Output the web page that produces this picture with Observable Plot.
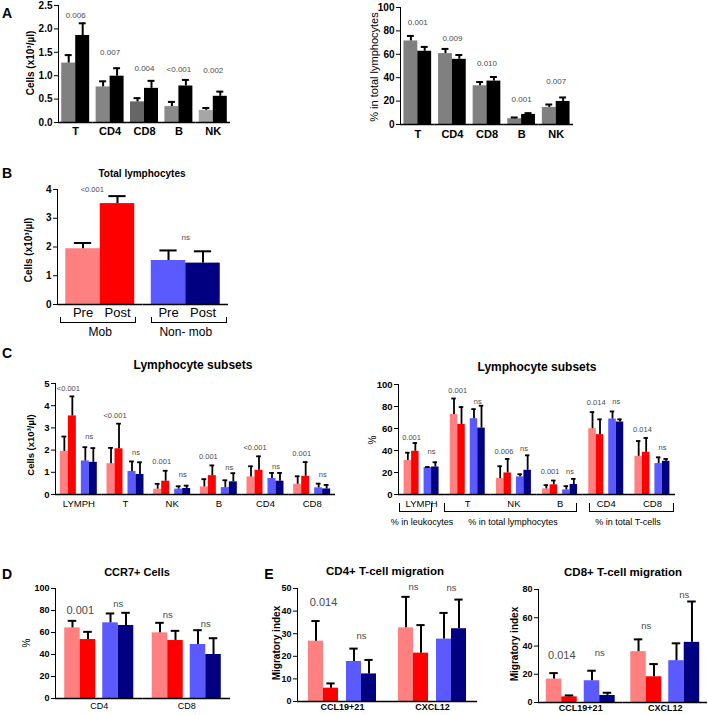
<!DOCTYPE html>
<html><head><meta charset="utf-8">
<script src="https://cdn.jsdelivr.net/npm/d3@7"></script>
<script src="https://cdn.jsdelivr.net/npm/@observablehq/plot@0.6"></script>
<style>
body{margin:0;background:#fff;font-family:"Liberation Sans",Arial,sans-serif;}
#fig{position:relative;width:708px;height:715px;overflow:hidden;background:#fff;}
.holder{position:absolute;}
.ctr{position:absolute;transform:translate(-50%,-50%);white-space:nowrap;color:#000;line-height:1;}
.rot{position:absolute;transform:translate(-50%,-50%) rotate(-90deg);white-space:nowrap;color:#000;line-height:1;}
.brk{position:absolute;border:1.5px solid #000;border-top:none;box-sizing:border-box;}
</style></head><body><div id="fig"></div><script>
// ---------------- DATA ----------------
// Panel A (two groups: grey vs black)
const aCats = ["T","CD4","CD8","B","NK"];
const aSeries = ["Group 1","Group 2"];
const aAbsGrey = [1.27,0.76,0.44,0.34,0.26];
const aAbsGreyTop = [1.44,0.88,0.52,0.44,0.31];
const aAbsBlack = [1.86,0.99,0.73,0.78,0.56];
const aAbsBlackTop = [2.12,1.16,0.89,0.91,0.66];
const aAbsP = ["0.006","0.007","0.004","<0.001","0.002"];
const aAbsPY = [2.29,1.5,1.16,1.14,1.12];
const aPctGrey = [71.4,60.6,33.1,4.9,14.6];
const aPctGreyTop = [75.7,64.6,36.3,6,17.1];
const aPctBlack = [62.6,55.7,37.1,8.6,19.7];
const aPctBlackTop = [66.3,59.4,40.6,9.7,23.1];
const aPctP = ["0.001","0.009","0.010","0.001","0.007"];
const aPctPY = [86.9,73.4,52.6,21.4,37];

// Panel B
const bGroups = ["Mob","Non- mob"];
const bTimes = ["Pre","Post"];
const bMobMean = [1.94,3.51], bMobTop = [2.14,3.77];
const bNonMean = [1.53,1.44], bNonTop = [1.88,1.85];
const bP = ["<0.001","ns"];
const bPY = [3.98,2.33];

// Panel C
const cCats = ["LYMPH","T","NK","B","CD4","CD8"];
const cAbsMobPre = [1.94,1.39,0.24,0.34,0.79,0.46];
const cAbsMobPreTop = [2.61,2.1,0.48,0.69,1.27,0.82];
const cAbsMobPost = [3.54,2.06,0.6,0.85,1.09,0.82];
const cAbsMobPostTop = [4.42,3.19,1.07,1.31,1.72,1.46];
const cAbsNonPre = [1.51,1.04,0.24,0.31,0.72,0.3];
const cAbsNonPreTop = [2.13,1.49,0.37,0.64,0.97,0.49];
const cAbsNonPost = [1.45,0.9,0.27,0.57,0.6,0.25];
const cAbsNonPostTop = [2.09,1.45,0.4,0.96,0.97,0.43];
const cAbsMobP = ["<0.001","<0.001","0.001","0.001","<0.001","0.001"];
const cAbsMobPY = [4.75,3.57,1.46,1.69,2.1,1.84];
const cAbsNonP = ["ns","ns","ns","ns","ns","ns"];
const cAbsNonPY = [2.63,1.88,0.91,1.21,1.27,0.9];

const cPctMobPre = [31,72.8,14.5,5.1,59.8,34.7];
const cPctMobPreTop = [38,87.3,25.7,8.5,74.9,48.6];
const cPctMobPost = [39.3,63.7,19.6,8.8,54.4,38.4];
const cPctMobPostTop = [46.8,79.5,32.3,12.7,68.3,51.4];
const cPctNonPre = [24.5,68.9,16,4.2,68.6,28.1];
const cPctNonPreTop = [25,77.6,18.4,7.6,75.5,33.8];
const cPctNonPost = [25,60.4,22,9.1,65.9,30.2];
const cPctNonPostTop = [29.3,80.7,35.6,14.2,68.3,32.3];
const cPctMobP = ["0.001","0.001","0.006","0.001","0.014","0.014"];
const cPctMobPY = [51.4,94.6,39.3,21.1,84,58.9];
const cPctNonP = ["ns","ns","ns","ns","ns","ns"];
const cPctNonPY = [38.7,84.9,41.4,21.1,84.9,42.3];
const cPctGroupLabels = ["% in leukocytes","% in total lymphocytes","% in total T-cells"];

// Panel D
const dCats = ["CD4","CD8"];
const dMobPre = [64.2,59.7], dMobPreTop = [70.6,68.8];
const dMobPost = [53.6,52.7], dMobPostTop = [60.6,61.5];
const dNonPre = [68.8,49.1], dNonPreTop = [77.3,62.1];
const dNonPost = [66.4,40], dNonPostTop = [77.9,54.8];
const dMobP = ["0.001","ns"], dMobPY = [79.7,76.4];
const dNonP = ["ns","ns"], dNonPY = [85.5,67.6];

// Panel E
const eCats = ["CCL19+21","CXCL12"];
const e4MobPre = [26.7,32.6], e4MobPreTop = [35.6,46.3];
const e4MobPost = [5.9,21.4], e4MobPostTop = [8,33.8];
const e4NonPre = [17.7,27.6], e4NonPreTop = [23.4,39.2];
const e4NonPost = [12.2,32.2], e4NonPostTop = [18.4,45.1];
const e4MobP = ["0.014","ns"], e4MobPY = [43.6,50.7];
const e4NonP = ["ns","ns"], e4NonPY = [28.8,50.3];
const e8MobPre = [16.6,36], e8MobPreTop = [20.8,44.7];
const e8MobPost = [4,18.2], e8MobPostTop = [5,27.2];
const e8NonPre = [15.4,29.6], e8NonPreTop = [22.5,41.9];
const e8NonPost = [5,42.6], e8NonPostTop = [6.9,71.5];
const e8MobP = ["0.014","ns"], e8MobPY = [33.6,54];
const e8NonP = ["ns","ns"], e8NonPY = [34.8,76.3];

// ---------------- STYLE ----------------
const FONT = '"Liberation Sans", Arial, Helvetica, sans-serif';
const greyOf = {T:"#808080",CD4:"#858585",CD8:"#666666",B:"#8a8a8a",NK:"#a6a6a6"};
const fourSeries = ["Mob Pre","Mob Post","Non-mob Pre","Non-mob Post"];
const fourColors = ["#ff8080","#ff0000","#5a5aff","#000080"];

function rows2(cats, series, sets, fillFn) {
  return cats.flatMap((c,i)=> sets.map(([m,t],j)=>({cat:c, s:series[j], v:m[i], hi:t[i], fill:fillFn(c,j), pair:0})));
}
function rows4(cats, sets) {
  return cats.flatMap((c,i)=> sets.map(([m,t],j)=>({cat:c, s:fourSeries[j], v:m[i], hi:t[i], fill:fourColors[j], pair: j<2?0:1})));
}
function labels4(cats, mobP, mobY, nonP, nonY) {
  return cats.flatMap((c,i)=>[{cat:c,text:mobP[i],y:mobY[i],pair:0},{cat:c,text:nonP[i],y:nonY[i],pair:1}]);
}
function labelsCenter(cats, p, py) {
  return cats.map((c,i)=>({cat:c,text:p[i],y:py[i],pair:null}));
}

const fig = document.getElementById("fig");

function panel(cfg) {
  const {left, top, width, height, mt, mr, mb, ml, fxDomain, xDomain, rows, labels,
    yDomain, yTicks, yFormat, padOuter, gap=0, capFrac=0.5, errW=2,
    fxSize, fxWeight, fxPad, xAxisOpts, pSize=8, nsSize=8, labelDx={}, yFont="10px"} = cfg;
  const n = xDomain.length;
  const facetW = (width - ml - mr) / fxDomain.length;
  const step = facetW / (n + 2*padOuter);
  const ins = step*(1-capFrac)/2;
  const offs = [-gap/2, gap/2];
  const marks = [];
  for (const k of [0,1]) {
    const rk = rows.filter(d => d.pair === k);
    if (!rk.length) continue;
    marks.push(Plot.barY(rk, {fx:"cat", x:"s", y:"v", fill:"fill", dx: offs[k]}));
    marks.push(Plot.ruleX(rk, {fx:"cat", x:"s", y1:"v", y2:"hi", stroke:"#000", strokeWidth: errW, dx: offs[k]}));
    marks.push(Plot.tickY(rk, {fx:"cat", x:"s", y:"hi", stroke:"#000", strokeWidth: errW, insetLeft: ins, insetRight: ins, dx: offs[k]}));
  }
  marks.push(Plot.ruleY([0], {stroke:"#000", strokeWidth:1.5}));
  for (const L of labels) {
    const size = L.text === "ns" ? nsSize : pSize;
    const extra = labelDx[L.cat + "|" + L.text] || 0;
    const opts = {fx:"cat", y:"y", text:"text", fontSize:size, fontWeight:"normal", fill:"#4a4a4a"};
    if (L.pair === null) { opts.dx = extra; }
    else { opts.x = () => xDomain[2*L.pair]; opts.dx = step/2 + offs[L.pair] + extra; }
    marks.push(Plot.text([L], opts));
  }
  marks.push(Plot.axisFx({anchor:"bottom", tickSize:0, tickPadding:fxPad, fontSize:fxSize, fontWeight:fxWeight, label:null}));
  if (xAxisOpts) marks.push(Plot.axisX({anchor:"bottom", tickSize:0, label:null, ...xAxisOpts}));
  const svg = Plot.plot({
    width, height, marginTop:mt, marginRight:mr, marginBottom:mb, marginLeft:ml,
    style:{fontFamily:FONT, fontSize:yFont, fontWeight:"bold", color:"#000", background:"transparent", overflow:"visible"},
    fx:{domain:fxDomain, padding:0, round:false, label:null},
    x:{domain:xDomain, paddingInner:0, paddingOuter:padOuter, round:false, axis: xAxisOpts ? undefined : null},
    y:{domain:yDomain, ticks:yTicks, tickFormat:yFormat, tickSize:4, tickPadding:2, line:true, label:null},
    marks
  });
  const holder = document.createElement("div");
  holder.className = "holder";
  holder.style.left = left + "px"; holder.style.top = top + "px";
  holder.appendChild(svg);
  fig.appendChild(holder);
}

function txt(t, x, y, size, weight, cls="ctr", color="#000") {
  const d = document.createElement("div");
  d.className = cls; d.textContent = t;
  d.style.left = x + "px"; d.style.top = y + "px";
  d.style.fontSize = size + "px"; d.style.fontWeight = weight; d.style.color = color;
  fig.appendChild(d);
}
function bracket(x1, x2, y1, y2) {
  const d = document.createElement("div");
  d.className = "brk";
  d.style.left = x1 + "px"; d.style.top = y1 + "px";
  d.style.width = (x2 - x1) + "px"; d.style.height = (y2 - y1) + "px";
  fig.appendChild(d);
}

// ---------------- PANEL A ----------------
panel({left:0, top:0, width:235, height:145, mt:5, mb:23, ml:58, mr:5,
  fxDomain:aCats, xDomain:aSeries,
  rows: rows2(aCats, aSeries, [[aAbsGrey,aAbsGreyTop],[aAbsBlack,aAbsBlackTop]], (c,j)=> j===0 ? greyOf[c] : "#000"),
  labels: labelsCenter(aCats, aAbsP, aAbsPY),
  yDomain:[0,2.5], yTicks:[0,0.5,1,1.5,2,2.5], yFormat:d3.format(".1f"), padOuter:0.23,
  fxSize:11, fxWeight:"bold", fxPad:5, pSize:8});
panel({left:340, top:0, width:240, height:145, mt:7, mb:21, ml:60, mr:7,
  fxDomain:aCats, xDomain:aSeries,
  rows: rows2(aCats, aSeries, [[aPctGrey,aPctGreyTop],[aPctBlack,aPctBlackTop]], (c,j)=> j===0 ? "#808080" : "#000"),
  labels: labelsCenter(aCats, aPctP, aPctPY),
  yDomain:[0,100], yTicks:[0,20,40,60,80,100], yFormat:d3.format("d"), padOuter:0.25,
  fxSize:11, fxWeight:"bold", fxPad:6, pSize:8});
txt("A", 7, 12.5, 14, "bold");
txt("Cells (x10³/µl)", 31, 63, 10, "bold", "rot");
txt("% in total lymphocytes", 374, 67, 11, "normal", "rot");

// ---------------- PANEL B ----------------
const bColors = [["#ff8080","#ff0000"],["#5a5aff","#000080"]];
panel({left:0, top:160, width:235, height:185, mt:29, mb:41, ml:57, mr:7,
  fxDomain:bGroups, xDomain:bTimes,
  rows: [
    ...bTimes.map((t,j)=>({cat:bGroups[0], s:t, v:bMobMean[j], hi:bMobTop[j], fill:bColors[0][j], pair:0})),
    ...bTimes.map((t,j)=>({cat:bGroups[1], s:t, v:bNonMean[j], hi:bNonTop[j], fill:bColors[1][j], pair:0}))
  ],
  labels: labelsCenter(bGroups, bP, bPY),
  labelDx: {"Mob|<0.001": -8},
  yDomain:[0,4], yTicks:[0,1,2,3,4], yFormat:d3.format("d"), padOuter:0.24,
  fxSize:12, fxWeight:"normal", fxPad:23, xAxisOpts:{fontSize:13, fontWeight:"normal", tickPadding:3},
  pSize:7.5, nsSize:8});
txt("B", 7, 172.5, 14, "bold");
txt("Total lymphocytes", 142, 174, 10, "bold");
txt("Cells (x10³/µl)", 29, 250, 10, "bold", "rot");
bracket(60, 136, 317, 322.5);
bracket(151, 227, 317, 322.5);

// ---------------- PANEL C ----------------
panel({left:0, top:375, width:338, height:139, mt:8, mb:20, ml:55, mr:3,
  fxDomain:cCats, xDomain:fourSeries,
  rows: rows4(cCats, [[cAbsMobPre,cAbsMobPreTop],[cAbsMobPost,cAbsMobPostTop],[cAbsNonPre,cAbsNonPreTop],[cAbsNonPost,cAbsNonPostTop]]),
  labels: labels4(cCats, cAbsMobP, cAbsMobPY, cAbsNonP, cAbsNonPY),
  yDomain:[0,5], yTicks:[0,1,2,3,4,5], yFormat:d3.format("d"), padOuter:0.92, gap:5, capFrac:0.6, errW:1.8,
  fxSize:9.5, fxWeight:"normal", fxPad:6, pSize:7.5, nsSize:7.5, yFont:"9.5px"});
panel({left:345, top:375, width:335, height:139, mt:9, mb:20, ml:53, mr:5,
  fxDomain:cCats, xDomain:fourSeries,
  rows: rows4(cCats, [[cPctMobPre,cPctMobPreTop],[cPctMobPost,cPctMobPostTop],[cPctNonPre,cPctNonPreTop],[cPctNonPost,cPctNonPostTop]]),
  labels: labels4(cCats, cPctMobP, cPctMobPY, cPctNonP, cPctNonPY),
  yDomain:[0,100], yTicks:[0,20,40,60,80,100], yFormat:d3.format("d"), padOuter:1.08, gap:5, capFrac:0.6, errW:1.8,
  fxSize:9.5, fxWeight:"normal", fxPad:6, pSize:7.5, nsSize:7.5, yFont:"9.5px"});
txt("C", 7, 353, 14, "bold");
txt("Lymphocyte subsets", 193, 365, 12, "bold");
txt("Lymphocyte subsets", 537, 367, 12, "bold");
txt("Cells (x10³/µl)", 31, 445, 9.5, "bold", "rot");
txt("%", 373, 440, 10, "normal", "rot");
bracket(399, 432, 503, 511.5);
bracket(444, 577, 503, 511.5);
bracket(589, 674, 503, 511.5);
txt(cPctGroupLabels[0], 422, 522, 9, "normal");
txt(cPctGroupLabels[1], 513, 522, 9, "normal");
txt(cPctGroupLabels[2], 628, 522, 9, "normal");

// ---------------- PANEL D ----------------
panel({left:0, top:580, width:232, height:135, mt:8, mb:17, ml:55, mr:2,
  fxDomain:dCats, xDomain:fourSeries,
  rows: rows4(dCats, [[dMobPre,dMobPreTop],[dMobPost,dMobPostTop],[dNonPre,dNonPreTop],[dNonPost,dNonPostTop]]),
  labels: labels4(dCats, dMobP, dMobPY, dNonP, dNonPY),
  yDomain:[0,100], yTicks:[0,20,40,60,80,100], yFormat:d3.format("d"), padOuter:0.82, gap:7, capFrac:0.55, errW:2,
  fxSize:9, fxWeight:"normal", fxPad:4, pSize:11, nsSize:9.5, yFont:"9px"});
txt("D", 7, 574, 14, "bold");
txt("CCR7+ Cells", 137, 572, 11, "bold");
txt("%", 27, 643, 10, "normal", "rot");

// ---------------- PANEL E ----------------
panel({left:245, top:580, width:235, height:135, mt:8, mb:14, ml:52, mr:3,
  fxDomain:eCats, xDomain:fourSeries,
  rows: rows4(eCats, [[e4MobPre,e4MobPreTop],[e4MobPost,e4MobPostTop],[e4NonPre,e4NonPreTop],[e4NonPost,e4NonPostTop]]),
  labels: labels4(eCats, e4MobP, e4MobPY, e4NonP, e4NonPY),
  yDomain:[0,50], yTicks:[0,10,20,30,40,50], yFormat:d3.format("d"), padOuter:1, gap:8, capFrac:0.55, errW:2,
  fxSize:9, fxWeight:"bold", fxPad:2, pSize:11, nsSize:9.5, yFont:"9px"});
panel({left:485, top:580, width:223, height:135, mt:9, mb:13, ml:53, mr:1,
  fxDomain:eCats, xDomain:fourSeries,
  rows: rows4(eCats, [[e8MobPre,e8MobPreTop],[e8MobPost,e8MobPostTop],[e8NonPre,e8NonPreTop],[e8NonPost,e8NonPostTop]]),
  labels: labels4(eCats, e8MobP, e8MobPY, e8NonP, e8NonPY),
  yDomain:[0,80], yTicks:[0,20,40,60,80], yFormat:d3.format("d"), padOuter:0.73, gap:7, capFrac:0.55, errW:2,
  fxSize:9, fxWeight:"bold", fxPad:2, pSize:11, nsSize:9.5, yFont:"9px"});
txt("E", 269, 574, 14, "bold");
txt("CD4+ T-cell migration", 385, 572, 11.5, "bold");
txt("CD8+ T-cell migration", 623, 573, 11.5, "bold");
txt("Migratory index", 277, 643, 10, "bold", "rot");
txt("Migratory index", 515, 644, 10, "bold", "rot");
</script></body></html>
